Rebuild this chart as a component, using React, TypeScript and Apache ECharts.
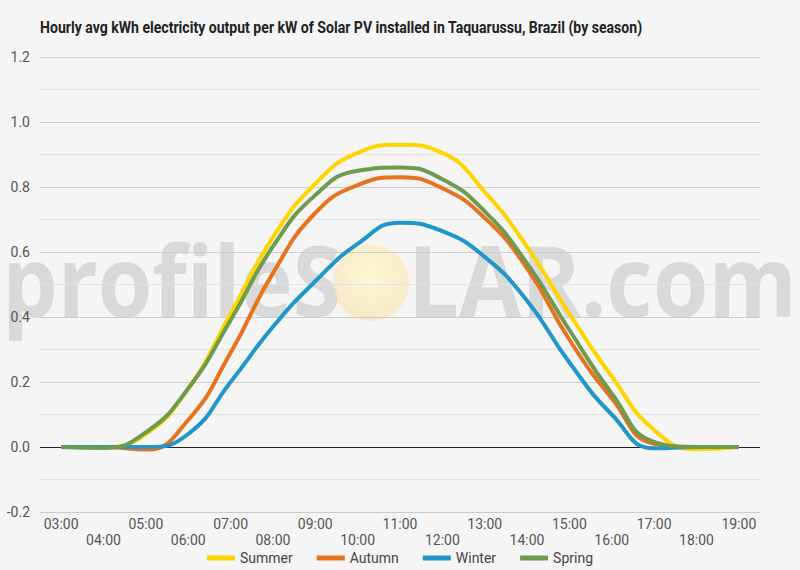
import React, { useEffect, useRef } from "react";
import * as echarts from "echarts";

const hours = ["03:00","04:00","05:00","06:00","07:00","08:00","09:00","10:00","11:00","12:00","13:00","14:00","15:00","16:00","17:00","18:00","19:00"];
const summer = [0, 0, 0.04, 0.18, 0.41, 0.645, 0.81, 0.905, 0.93, 0.905, 0.785, 0.616, 0.41, 0.217, 0.052, -0.007, 0];
const autumn = [0, 0, -0.008, 0.083, 0.29, 0.535, 0.72, 0.806, 0.83, 0.796, 0.705, 0.55, 0.33, 0.15, 0.01, 0, 0];
const winter = [0, 0, 0, 0.04, 0.2, 0.37, 0.51, 0.625, 0.69, 0.664, 0.585, 0.45, 0.26, 0.1, -0.004, 0, 0];
const spring = [0, -0.003, 0.045, 0.18, 0.39, 0.617, 0.775, 0.85, 0.86, 0.824, 0.725, 0.565, 0.36, 0.165, 0.016, 0, 0];

const seriesNames = ["Summer", "Autumn", "Winter", "Spring"];
const seriesColors = ["#FFD500", "#E8731E", "#2196C9", "#6E9B4E"];
const seriesData = [summer, autumn, winter, spring];

const titleText = "Hourly avg kWh electricity output per kW of Solar PV installed in Taquarussu, Brazil (by season)";

export default function App() {
  const ref = useRef<HTMLDivElement>(null);
  useEffect(() => {
    if (!ref.current) return;
    const chart = echarts.init(ref.current, null, { renderer: "svg" });
    const wmColor = "rgba(170,170,170,0.36)";
    const wmFont = "'Open Sans', sans-serif";
    chart.setOption({
      animation: false,
      backgroundColor: "#f5f5f5",
      graphic: [
        {
          type: "text",
          x: 40,
          y: 28,
          scaleX: 0.88,
          z: 10,
          style: {
            text: titleText,
            fontFamily: "Roboto, sans-serif",
            fontWeight: "bold",
            fontSize: 16,
            fill: "#222",
            verticalAlign: "middle",
            align: "left",
          },
        },
        {
          type: "text",
          x: 2,
          y: 279,
          scaleX: 0.9,
          z: 0,
          style: { text: "profileS", fontFamily: wmFont, fontSize: 98, fontWeight: "bold", fill: wmColor, verticalAlign: "middle" },
        },
        {
          type: "circle",
          shape: { cx: 371, cy: 283, r: 38 },
          z: 0,
          style: {
            fill: new echarts.graphic.RadialGradient(0.5, 0.4, 0.6, [
              { offset: 0, color: "rgba(255,250,200,0.75)" },
              { offset: 1, color: "rgba(250,225,170,0.6)" },
            ]),
          },
        },
        {
          type: "text",
          x: 408,
          y: 279,
          scaleX: 0.92,
          z: 0,
          style: { text: "LAR.com", fontFamily: wmFont, fontSize: 98, fontWeight: "bold", fill: wmColor, verticalAlign: "middle" },
        },
      ],
      legend: {
        bottom: 0,
        left: "center",
        icon: "rect",
        itemWidth: 28,
        itemHeight: 5,
        itemGap: 24,
        textStyle: { fontFamily: "Roboto, sans-serif", fontSize: 14, color: "#444" },
        data: seriesNames,
      },
      grid: { left: 40, right: 40, top: 57, bottom: 58, containLabel: false },
      xAxis: {
        type: "category",
        data: hours,
        boundaryGap: true,
        axisLine: { onZero: false, lineStyle: { color: "#ccc" } },
        axisTick: { show: false },
        axisLabel: {
          interval: 0,
          margin: 4,
          fontFamily: "Roboto, sans-serif",
          fontSize: 14,
          color: "#555",
          lineHeight: 16,
          formatter: (v: string, i: number) => (i % 2 === 1 ? "\n" + v : v),
        },
      },
      yAxis: {
        type: "value",
        min: -0.2,
        max: 1.2,
        interval: 0.2,
        axisLine: { show: false },
        axisTick: { show: false },
        axisLabel: {
          margin: 10,
          fontFamily: "Roboto, sans-serif",
          fontSize: 14,
          color: "#555",
          formatter: (v: number) => v.toFixed(1),
        },
        splitLine: { lineStyle: { color: "#cccccc", width: 1 } },
        minorTick: { show: false, splitNumber: 2 },
        minorSplitLine: { show: true, lineStyle: { color: "#e2e2e2", width: 1 } },
      },
      series: seriesNames.map((name, i) => ({
        name,
        type: "line",
        data: seriesData[i],
        smooth: 0.5,
        showSymbol: false,
        symbol: "none",
        z: 3,
        lineStyle: { color: seriesColors[i], width: 4 },
        itemStyle: { color: seriesColors[i] },
        markLine:
          i === 0
            ? {
                silent: true,
                symbol: "none",
                label: { show: false },
                lineStyle: { color: "#222", type: "solid", width: 1 },
                data: [{ yAxis: 0 }],
                z: 1,
              }
            : undefined,
      })),
    });
    return () => chart.dispose();
  }, []);
  return <div ref={ref} style={{ position: "fixed", left: 0, top: 0, width: 800, height: 570 }} />;
}
